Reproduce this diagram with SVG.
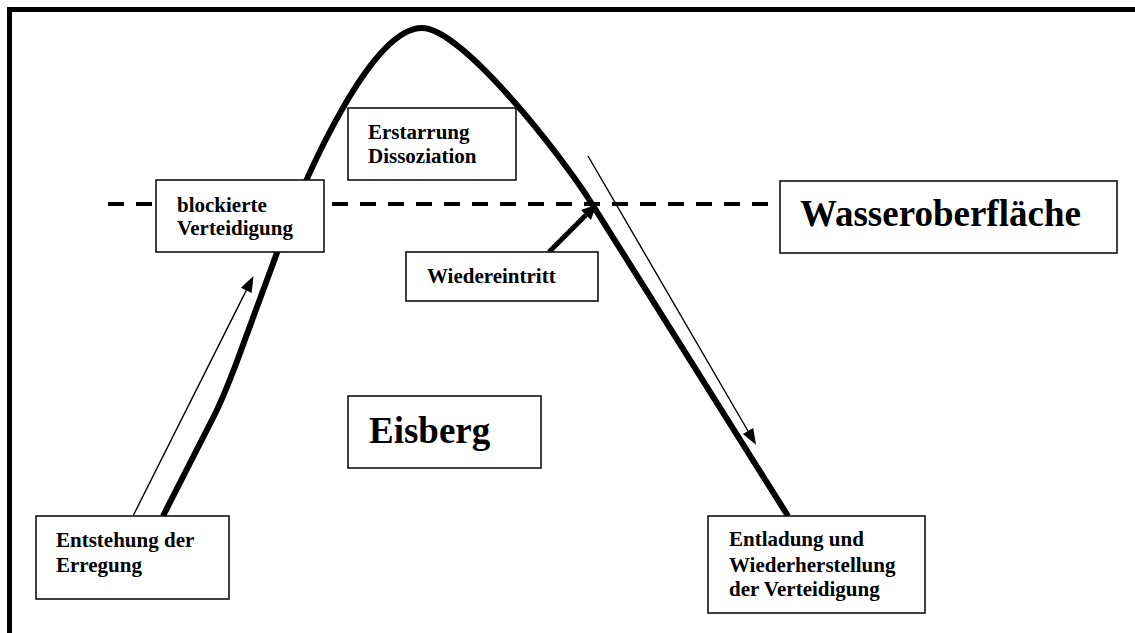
<svg xmlns="http://www.w3.org/2000/svg" width="1135" height="633" viewBox="0 0 1135 633">
  <style>
    .box { fill: #ffffff; stroke: #111111; stroke-width: 1.6; }
    .lbl { font-family: "Liberation Serif", "Times New Roman", serif; font-weight: bold; font-size: 21px; fill: #000000; }
    .big { font-size: 37px; }
    .frame { fill: none; stroke: #000000; stroke-width: 5; }
    .water { fill: none; stroke: #000000; stroke-width: 4; stroke-dasharray: 16 12; }
    .berg { fill: none; stroke: #000000; stroke-width: 6; stroke-linejoin: round; }
    .thin { fill: none; stroke: #000000; stroke-width: 1.4; }
    .thick { fill: none; stroke: #000000; stroke-width: 5; }
  </style>
  <defs>
    <marker id="head" markerUnits="userSpaceOnUse" markerWidth="16" markerHeight="14" refX="0" refY="6" orient="auto" overflow="visible">
      <path d="M0,0 L16,6 L0,12 z" fill="#000000"/>
    </marker>
    <marker id="headBold" markerUnits="userSpaceOnUse" markerWidth="16" markerHeight="16" refX="0" refY="7" orient="auto" overflow="visible">
      <path d="M0,0 L15,7 L0,14 z" fill="#000000"/>
    </marker>
  </defs>

  <rect width="1135" height="633" fill="#ffffff"/>

  <!-- open frame: left and top edge -->
  <path class="frame" d="M9.5,633 V9.5 H1135"/>

  <!-- water surface -->
  <path class="water" d="M108,204 H768"/>

  <g id="connectors">
    <!-- iceberg outline -->
    <path class="berg" d="M163,516 L214,416 C222,400 228,385 236,364 L278,250 C308,169 372,28 422,28 C462,28 562,156 592,204 L788,516"/>
    <!-- rising arrow -->
    <path class="thin" d="M133,516 L246.3,290.4" marker-end="url(#head)"/>
    <!-- descending arrow -->
    <path class="thin" d="M588,156 L748,431" marker-end="url(#head)"/>
    <!-- re-entry arrow -->
    <path class="thick" d="M549,252 L586,215" marker-end="url(#headBold)"/>
  </g>

  <g id="node-blockiert">
    <rect class="box" x="156" y="180" width="168" height="72"/>
    <text class="lbl" x="177" y="212">blockierte</text>
    <text class="lbl" x="177" y="235">Verteidigung</text>
  </g>

  <g id="node-erstarrung">
    <rect class="box" x="348" y="108" width="168" height="72"/>
    <text class="lbl" x="368" y="139">Erstarrung</text>
    <text class="lbl" x="368" y="163">Dissoziation</text>
  </g>

  <g id="node-wiedereintritt">
    <rect class="box" x="406" y="252" width="192" height="49"/>
    <text class="lbl" x="427" y="283">Wiedereintritt</text>
  </g>

  <g id="node-wasser">
    <rect class="box" x="780" y="181" width="337" height="72"/>
    <text class="lbl big" x="800" y="226">Wasseroberfläche</text>
  </g>

  <g id="node-eisberg">
    <rect class="box" x="348" y="396" width="193" height="72"/>
    <text class="lbl big" x="369" y="443">Eisberg</text>
  </g>

  <g id="node-entstehung">
    <rect class="box" x="36" y="516" width="193" height="83"/>
    <text class="lbl" x="56" y="547">Entstehung der</text>
    <text class="lbl" x="56" y="572">Erregung</text>
  </g>

  <g id="node-entladung">
    <rect class="box" x="708" y="516" width="217" height="97"/>
    <text class="lbl" x="729" y="546">Entladung und</text>
    <text class="lbl" x="729" y="572">Wiederherstellung</text>
    <text class="lbl" x="729" y="596">der Verteidigung</text>
  </g>
</svg>
